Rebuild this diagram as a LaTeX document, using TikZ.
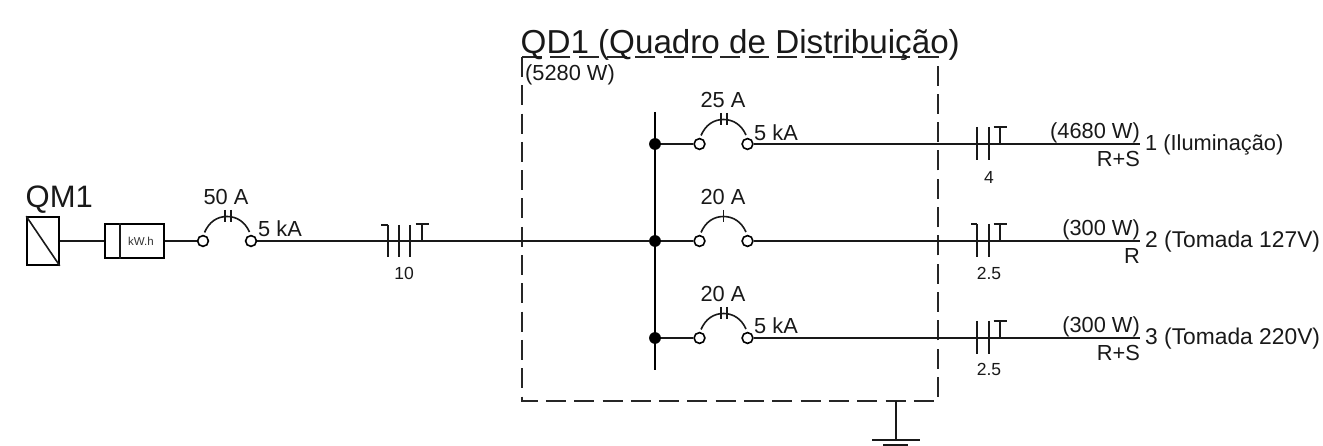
\documentclass[tikz,border=0pt]{standalone}
\usepackage{fontspec}
\setmainfont{Liberation Sans}
\usetikzlibrary{calc}
\tikzset{
  wire/.style={line width=1.6pt,black!90},
  bus/.style={line width=2.4pt,black},
  tick/.style={line width=2pt,black!90},
  thin part/.style={line width=1.6pt,black!90},
  term/.style={circle,draw=black,line width=1.6pt,fill=white,minimum size=10.8pt,inner sep=0pt},
  dot/.style={circle,fill=black,minimum size=11.8pt,inner sep=0pt},
  big/.style={font=\fontsize{31}{31}\selectfont,inner sep=0pt,text=black!90},
  title/.style={font=\fontsize{33.2}{33}\selectfont,inner sep=0pt,text=black!90},
  lab/.style={font=\fontsize{21.8}{22}\selectfont,inner sep=0pt,text=black!90},
  wide/.style={font=\fontsize{22.8}{23}\selectfont,inner sep=0pt,text=black!90},
  small/.style={font=\fontsize{17.5}{18}\selectfont,inner sep=0pt,text=black!90},
  dashedbox/.style={line width=1.5pt,black!85,dash pattern=on 20pt off 8.3pt},
}
% name, left terminal x, y, tick offsets
\newcommand{\breakerunit}[4]{%
  \node[term] (#1a) at (#2,#3) {};
  \node[term] (#1b) at (#2+48,#3) {};
  \draw[thin part] (#2+1.5,#3-8.5) .. controls (#2+6,#3-19) and (#2+14,#3-24.5) .. (#2+24,#3-24.5)
     .. controls (#2+34,#3-24.5) and (#2+42,#3-19) .. (#2+46.5,#3-9);
  \foreach \o in {#4} \draw[thin part] (#2+\o,#3-31) -- (#2+\o,#3-19);
}
\newcommand{\cableT}[2]{%
  \draw[tick] (#1,#2) -- (#1,#2-16.5);
  \draw[tick] (#1-6.5,#2-16.5) -- (#1+6.5,#2-16.5);
}
\begin{document}
\begin{tikzpicture}[x=1pt,y=-1pt]
\useasboundingbox (0,0) rectangle (1323,446);
\fill[white] (0,0) rectangle (1323,446);

% QM1
\node[big,anchor=base west] (qm) at (25.5,208) {QM1};
\node[draw=black,line width=1.6pt,minimum width=32pt,minimum height=48pt,inner sep=0pt] (src) at (43,241) {};
\draw[thin part] (src.north west) -- (src.south east);
\node[draw=black,line width=1.5pt,minimum width=59pt,minimum height=34pt,inner sep=0pt] (meter) at (134.5,241) {};
\draw[thin part] ($(meter.north west)+(16,0)$) coordinate (mt) -- (mt |- meter.south);
\node[font=\fontsize{11.5}{12}\selectfont,inner sep=0pt,text=black!80] (kwh) at (141,241) {kW.h};
\draw[wire] (src.east) -- (meter.west);

% main breaker
\breakerunit{m}{203}{241}{22,28}
\draw[wire] (meter.east) -- (ma);
\node[lab] (ml) at (226,197) {50 A};
\node[lab,anchor=west] (mk) at (258,229) {5 kA};

% QD1
\coordinate (bxa) at (522,57);
\coordinate (bxb) at (938,401);
\draw[dashedbox] (bxa) rectangle (bxb);
\node[title,anchor=base west] (qd) at (520.5,53.5) {QD1 (Quadro de Distribuição)};
\node[lab,anchor=west] (pw) at (525,74.5) {(5280 W)};

% bus
\coordinate (bustop) at (655,112);
\coordinate (busbot) at (655,370);
\draw[bus] (bustop) -- (busbot);
\node[dot] (d1) at (655,144) {};
\node[dot] (d2) at (655,241) {};
\node[dot] (d3) at (655,338) {};

% main feeder
\draw[wire] (mb) -- (d2);
\draw[tick] (388,225) -- (388,257);
\draw[tick] (381,225) -- (388,225);
\draw[tick] (399,225) -- (399,257);
\draw[tick] (410,225) -- (410,257);
\cableT{422}{241}
\node[small] (c0) at (404,273) {10};

% branch breakers
\breakerunit{a}{699.5}{144}{21.5,27.5}
\breakerunit{b}{699.5}{241}{24}
\breakerunit{c}{699.5}{338}{21.5,27.5}
\draw[wire] (d1) -- (aa);
\draw[wire] (d2) -- (ba);
\draw[wire] (d3) -- (ca);
\node[lab] (al) at (723,100) {25 A};
\node[lab] (bl) at (723,197) {20 A};
\node[lab] (cl) at (723,294) {20 A};
\node[lab,anchor=west] (ak) at (754,133) {5 kA};
\node[lab,anchor=west] (ck) at (754,326) {5 kA};

% outgoing circuits
\coordinate (ae) at (1140,144);
\coordinate (be) at (1140,241);
\coordinate (ce) at (1140,338);
\draw[wire] (ab) -- (ae);
\draw[wire] (bb) -- (be);
\draw[wire] (cb) -- (ce);

\foreach \y in {144,241,338} {
  \draw[tick] (977,\y-17) -- (977,\y+16);
  \draw[tick] (989,\y-17) -- (989,\y+16);
  \cableT{1000}{\y}
}
\draw[tick] (971,224) -- (977,224);

\node[small] (c1) at (989,177) {4};
\node[small] (c2) at (989,273) {2.5};
\node[small] (c3) at (989,369) {2.5};

\node[lab,anchor=east] (p1) at (1140,132.5) {(4680 W)};
\node[lab,anchor=east] (p2) at (1140,229.5) {(300 W)};
\node[lab,anchor=east] (p3) at (1140,326.5) {(300 W)};
\node[lab,anchor=east] (f1) at (1140,159) {R+S};
\node[lab,anchor=east] (f2) at (1140,256) {R};
\node[lab,anchor=east] (f3) at (1140,353) {R+S};
\node[lab,anchor=west] (n1) at (1145,145) {1 (Iluminação)};
\node[wide,anchor=west] (n2) at (1145,242) {2 (Tomada 127V)};
\node[wide,anchor=west] (n3) at (1145,339) {3 (Tomada 220V)};

% ground
\coordinate (g0) at (896,401);
\coordinate (g1) at (896,440);
\draw[thin part] (g0) -- (g1);
\draw[thin part] (872,440) -- (920,440);
\draw[thin part] (883,445) -- (908,445);
\end{tikzpicture}
\end{document}
